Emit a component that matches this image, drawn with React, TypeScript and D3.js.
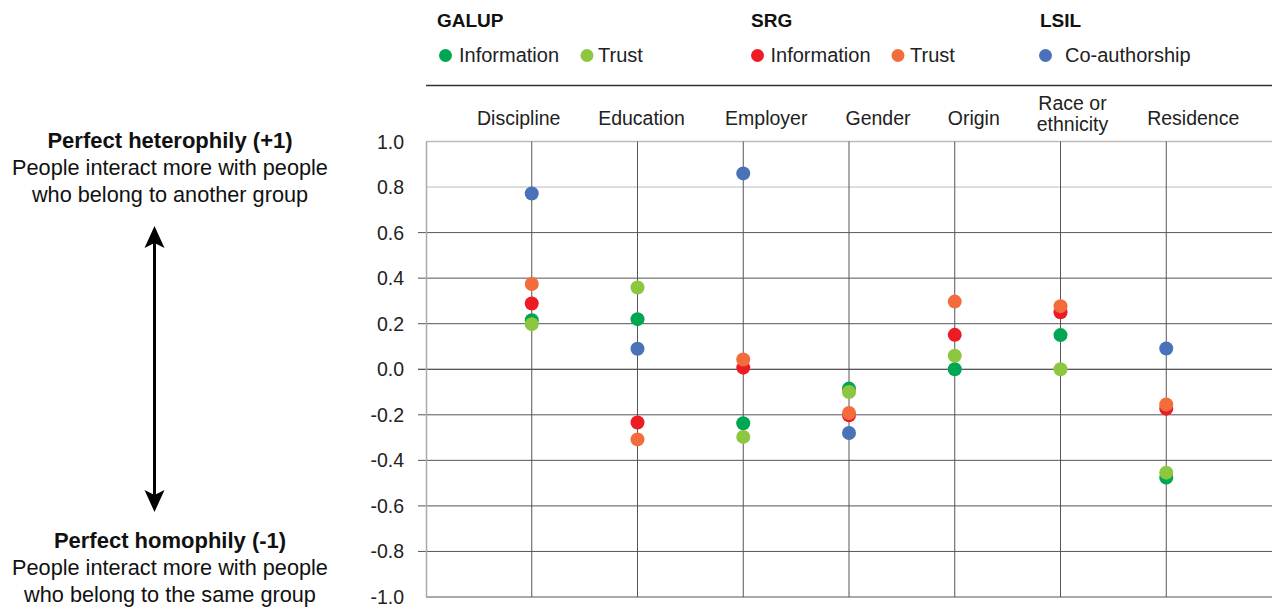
import React from "react";
import * as d3 from "d3";

const categories = ["Discipline", "Education", "Employer", "Gender", "Origin", "Race or\nethnicity", "Residence"];
const galupInformation = [0.215, 0.22, -0.237, -0.085, 0.0, 0.15, -0.476];
const galupTrust = [0.198, 0.359, -0.297, -0.1, 0.059, 0.0, -0.454];
const srgInformation = [0.289, -0.234, 0.007, -0.202, 0.151, 0.25, -0.173];
const srgTrust = [0.374, -0.308, 0.043, -0.192, 0.297, 0.277, -0.155];
const lsilCoauthorship: (number | null)[] = [0.772, 0.09, 0.86, -0.28, null, null, 0.091];
const yTicks = [1.0, 0.8, 0.6, 0.4, 0.2, 0.0, -0.2, -0.4, -0.6, -0.8, -1.0];

const COLORS = {
  green: "#00a651",
  lightgreen: "#8dc63f",
  red: "#ed1c24",
  orange: "#f36c3b",
  blue: "#4a72b8",
};

const series = [
  { name: "GALUP Information", values: galupInformation, color: COLORS.green },
  { name: "GALUP Trust", values: galupTrust, color: COLORS.lightgreen },
  { name: "SRG Information", values: srgInformation, color: COLORS.red },
  { name: "SRG Trust", values: srgTrust, color: COLORS.orange },
  { name: "LSIL Co-authorship", values: lsilCoauthorship, color: COLORS.blue },
];

// label horizontal nudges (layout only)
const labelDx = [-13, 4, 23, 29, 19, 12, 27];

const FONT = "'Liberation Sans', Arial, Helvetica, sans-serif";
const W = 1272;
const H = 608;

export default function App() {
  const x = d3.scaleLinear().domain([0, categories.length + 1]).range([426, 1272]);
  const y = d3.scaleLinear().domain([-1, 1]).range([597, 141.5]);
  const fs = 19.5;

  const legendGroups = [
    { title: "GALUP", tx: 437, items: [
      { label: "Information", color: COLORS.green, cx: 445.5, lx: 459 },
      { label: "Trust", color: COLORS.lightgreen, cx: 587, lx: 598 },
    ]},
    { title: "SRG", tx: 751, items: [
      { label: "Information", color: COLORS.red, cx: 757.5, lx: 770.5 },
      { label: "Trust", color: COLORS.orange, cx: 898, lx: 910 },
    ]},
    { title: "LSIL", tx: 1040, items: [
      { label: "Co-authorship", color: COLORS.blue, cx: 1045.5, lx: 1065 },
    ]},
  ];

  return (
    <svg width={W} height={H} style={{ position: "absolute", left: 0, top: 0, background: "#fff" }} fontFamily={FONT}>
      {/* Legend */}
      {legendGroups.map((g) => (
        <g key={g.title}>
          <text x={g.tx} y={27} fontSize={19} fontWeight="bold" fill="#111">{g.title}</text>
          {g.items.map((it) => (
            <g key={it.label + it.color}>
              <circle cx={it.cx} cy={55.5} r={6.5} fill={it.color} />
              <text x={it.lx} y={62} fontSize={20} fill="#222">{it.label}</text>
            </g>
          ))}
        </g>
      ))}
      <line x1={426} x2={1272} y1={85.5} y2={85.5} stroke="#333" strokeWidth={1.5} />

      {/* Category labels */}
      {categories.map((c, i) => {
        const lines = c.split("\n");
        const cx = x(i + 1) + labelDx[i];
        return (
          <text key={c} x={cx} textAnchor="middle" fontSize={fs} fill="#222">
            {lines.length === 1 ? (
              <tspan x={cx} y={125}>{c}</tspan>
            ) : (
              lines.map((l, k) => (
                <tspan key={l} x={cx} y={110 + k * 21}>{l}</tspan>
              ))
            )}
          </text>
        );
      })}

      {/* Gridlines */}
      {yTicks.map((t) => {
        const yy = y(t);
        const interior = t < 0.7 && t > -0.9;
        return (
          <line key={t} x1={interior ? 418 : 426} x2={1272} y1={yy} y2={yy}
            stroke={t === 0 ? "#222" : t === 1 || t === 0.8 ? "#bbb" : "#555"}
            strokeWidth={t === 1 ? 1.5 : 1} />
        );
      })}
      <line x1={426.5} x2={426.5} y1={y(1)} y2={y(-1)} stroke="#aaa" strokeWidth={1.5} />
      {categories.map((c, i) => (
        <line key={c} x1={x(i + 1)} x2={x(i + 1)} y1={y(1)} y2={y(-1)} stroke="#555" strokeWidth={1} />
      ))}

      {/* Y tick labels */}
      {yTicks.map((t) => (
        <text key={t} x={404} y={y(t) + 7} textAnchor="end" fontSize={fs} fill="#222">
          {d3.format(".1f")(t).replace("−", "-")}
        </text>
      ))}

      {/* Points */}
      {series.map((s) => (
        <g key={s.name}>
          {s.values.map((v, i) =>
            v === null ? null : (
              <circle key={i} cx={x(i + 1)} cy={y(v)} r={7} fill={s.color} />
            )
          )}
        </g>
      ))}

      {/* Left annotation */}
      <g fill="#111" textAnchor="middle" fontSize={21.7}>
        <text x={170} y={148} fontWeight="bold" fontSize={22}>Perfect heterophily (+1)</text>
        <text x={170} y={175}>People interact more with people</text>
        <text x={170} y={202}>who belong to another group</text>
        <text x={170} y={548} fontWeight="bold" fontSize={22}>Perfect homophily (-1)</text>
        <text x={170} y={575}>People interact more with people</text>
        <text x={170} y={602}>who belong to the same group</text>
      </g>
      <line x1={154.5} x2={154.5} y1={240} y2={498} stroke="#000" strokeWidth={3} />
      <path d={`M154.5,226 L144.5,248 L154.5,243 L164.5,248 Z`} fill="#000" />
      <path d={`M154.5,512 L144.5,490 L154.5,495 L164.5,490 Z`} fill="#000" />
    </svg>
  );
}
